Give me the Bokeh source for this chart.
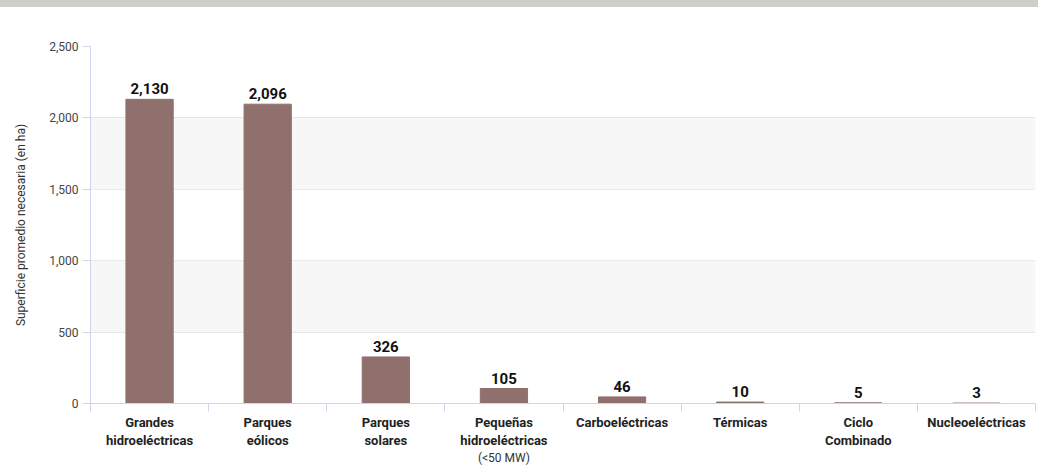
from bokeh.plotting import figure
from bokeh.models import (Range1d, FixedTicker, BoxAnnotation, LabelSet, LinearAxis,
                          ColumnDataSource, NumeralTickFormatter, Div)
from bokeh.core.properties import value
from bokeh.layouts import column
from bokeh.embed import file_html
from bokeh.resources import INLINE

categories = ["Grandes\nhidroeléctricas", "Parques\neólicos", "Parques\nsolares",
              "Pequeñas\nhidroeléctricas", "Carboeléctricas", "Térmicas",
              "Ciclo\nCombinado", "Nucleoeléctricas"]
values = [2130, 2096, 326, 105, 46, 10, 5, 3]
value_labels = ["2,130", "2,096", "326", "105", "46", "10", "5", "3"]
note = "(<50 MW)"
note_index = 3
y_title = "Superficie promedio necesaria (en ha)"
y_ticks = [0, 500, 1000, 1500, 2000, 2500]

FONT = "Roboto"

xs = [i + 0.5 for i in range(len(categories))]
src = ColumnDataSource(dict(x=xs, top=values, lab=value_labels))

p = figure(width=1038, height=460, x_range=Range1d(0, len(categories)),
           y_range=Range1d(0, 2500), output_backend="svg", toolbar_location=None,
           min_border_left=90, min_border_right=3, min_border_top=39, min_border_bottom=63,
           margin=0)
p.outline_line_color = None
p.background_fill_color = "white"

for lo, hi in [(500, 1000), (1500, 2000)]:
    p.add_layout(BoxAnnotation(bottom=lo, top=hi, fill_color="#f7f7f7", fill_alpha=1,
                               line_color=None, level="underlay"))

p.vbar(x="x", top="top", width=0.4, source=src, color="#8f706d")

p.add_layout(LabelSet(x="x", y="top", text="lab", source=src, text_align="center",
                      text_baseline="bottom", y_offset=5, text_font=value(FONT),
                      text_font_style="bold", text_font_size="15px", text_color="#111111"))

# x axis
p.xaxis.ticker = FixedTicker(ticks=xs, minor_ticks=list(range(len(categories) + 1)))
p.xaxis.major_label_overrides = {x: c for x, c in zip(xs, categories)}
p.xaxis.major_tick_line_color = None
p.xaxis.major_tick_out = 0
p.xaxis.minor_tick_in = 0
p.xaxis.minor_tick_out = 8
p.xaxis.minor_tick_line_color = "#ccd6eb"
p.xaxis.axis_line_color = "#ccd6eb"
p.xaxis.major_label_text_font = FONT
p.xaxis.major_label_text_font_style = "bold"
p.xaxis.major_label_text_font_size = "13px"
p.xaxis.major_label_text_color = "#222222"
p.xaxis.major_label_standoff = 3
p.xaxis.major_label_text_line_height = 1.2
p.xgrid.grid_line_color = None

# secondary axis carrying the non-bold note under the 4th category
note_axis = LinearAxis(ticker=FixedTicker(ticks=[xs[note_index]], minor_ticks=[]),
                       major_label_overrides={xs[note_index]: note},
                       axis_line_color=None, major_tick_line_color=None,
                       major_tick_in=0, major_tick_out=0, minor_tick_line_color=None,
                       major_label_standoff=0, major_label_text_font=FONT,
                       major_label_text_font_size="12px", major_label_text_color="#333333")
p.add_layout(note_axis, "below")

# y axis
p.yaxis.ticker = FixedTicker(ticks=y_ticks)
p.yaxis.formatter = NumeralTickFormatter(format="0,0")
p.yaxis.axis_line_color = "#ccd6eb"
p.yaxis.major_tick_line_color = "#ccd6eb"
p.yaxis.major_tick_in = 0
p.yaxis.major_tick_out = 8
p.yaxis.minor_tick_line_color = None
p.yaxis.major_label_text_font = FONT
p.yaxis.major_label_text_font_size = "12px"
p.yaxis.major_label_text_color = "#444444"
p.yaxis.major_label_standoff = 4
p.yaxis.axis_label = y_title
p.yaxis.axis_label_text_font = FONT
p.yaxis.axis_label_text_font_style = "normal"
p.yaxis.axis_label_text_font_size = "12px"
p.yaxis.axis_label_text_color = "#333333"
p.yaxis.axis_label_standoff = 18
p.ygrid.grid_line_color = "#e6e6e6"

band = Div(width=1038, height=7, margin=0, styles={"background-color": "#d0cfc7"})
layout = column(band, p, spacing=0, margin=0)

open("out.html", "w").write(file_html(layout, INLINE))
